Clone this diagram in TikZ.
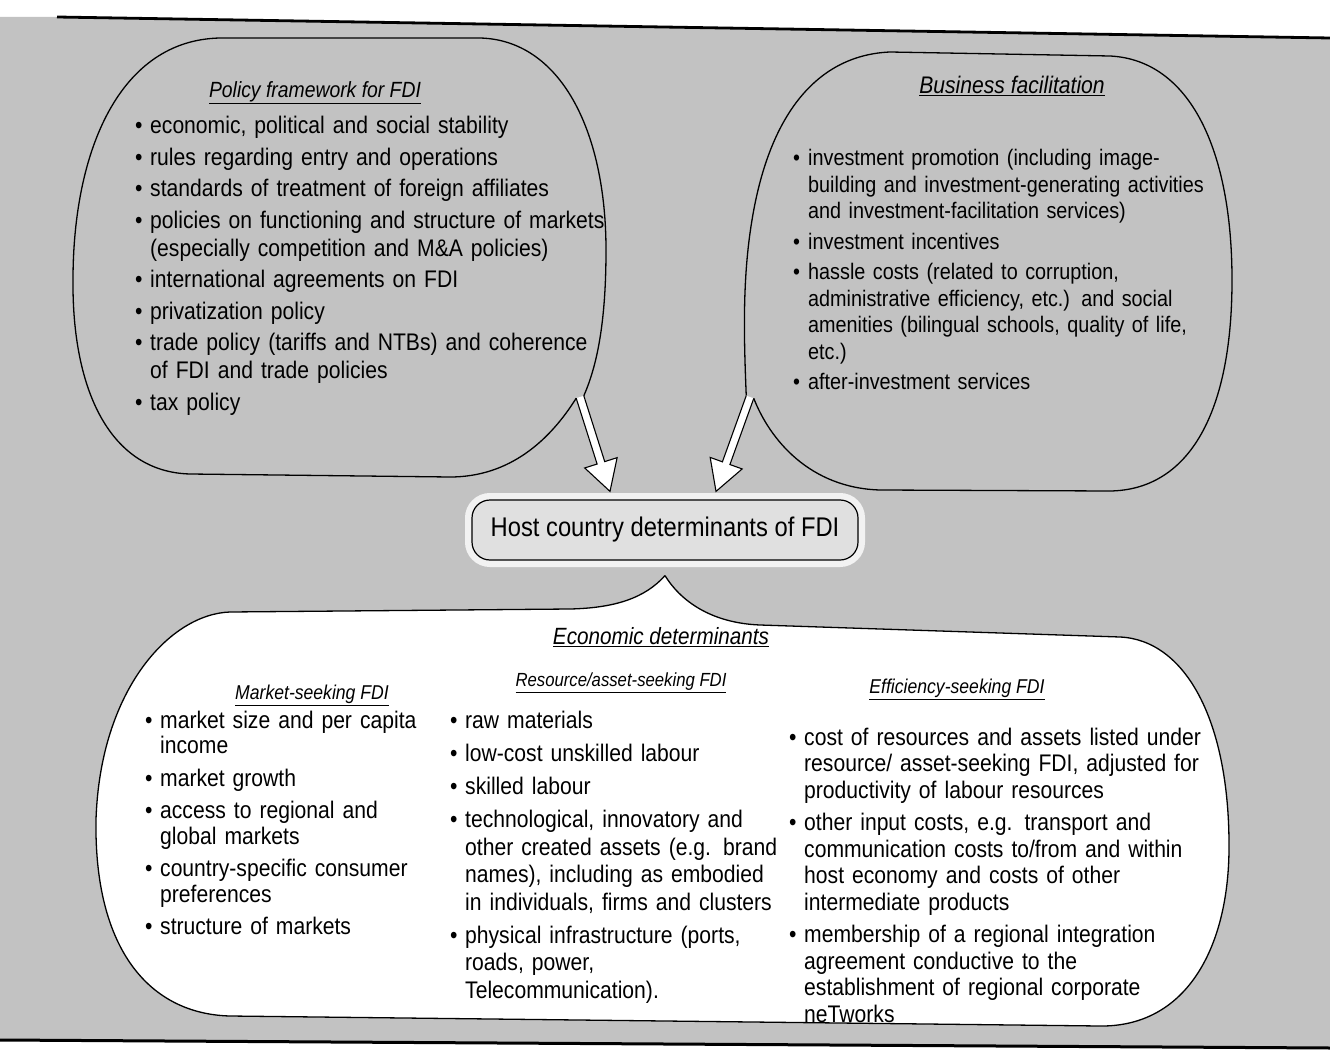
\documentclass[tikz,border=0pt]{standalone}
\usepackage{fontspec}
\setmainfont{Liberation Sans}[FakeStretch=0.88]
\usetikzlibrary{calc}

\newcommand{\itm}{\par\hangindent=15pt\hangafter=1\noindent\makebox[15pt][l]{\textbullet}}
\newcommand{\nl}{\hfil\break}
\newcommand{\hd}[1]{\underline{\textit{#1}}}
\newcommand{\hollowarrow}[1]{%
  \coordinate (#1base) at ($(#1tip)!30pt!(#1tail)$);
  \filldraw[arrowbody] (#1A) -- ($(#1base)!4pt!-90:(#1tip)$) -- ($(#1base)!17pt!-90:(#1tip)$)
    -- (#1tip) -- ($(#1base)!17pt!90:(#1tip)$) -- ($(#1base)!4pt!90:(#1tip)$) -- (#1B);}

\begin{document}
\begin{tikzpicture}[
  x=1pt, y=-1pt,
  bubble/.style={draw=black, line width=1.3pt},
  arrowbody/.style={fill=white, draw=black, line width=1.1pt, line join=miter},
  hostbox/.style={draw=black, line width=1.2pt, fill=black!12, rounded corners=18pt,
    minimum width=386pt, minimum height=60pt, inner sep=0pt,
    font=\fontsize{27}{30}\selectfont,
    preaction={draw=black!5, line width=14pt}},
  head/.style={inner sep=0pt},
  listtext/.style={anchor=north west, inner sep=0pt, align=left}
  ]
  \useasboundingbox (0,0) rectangle (1330,1059);
  \fill[black!24] (0,17) -- (57,17) -- (1330,38) -- (1330,1048) -- (0,1040) -- cycle;
  \draw[line width=2.8pt] (57,17) -- (1330,38);
  \draw[line width=3pt] (0,1040) -- (1330,1048);

  \node[hostbox] (host) at (665,530) {Host country determinants of FDI};

  \coordinate (ltail) at (580,397);
  \coordinate (ltip) at ([xshift=-55pt, yshift=8pt]host.north);
  \coordinate (rtail) at (750,397);
  \coordinate (rtip) at ([xshift=51pt, yshift=8pt]host.north);
  \coordinate (lA) at ($(ltail)!4pt!-90:(ltip)$);
  \coordinate (lB) at ($(ltail)!4pt!90:(ltip)$);
  \coordinate (rA) at ($(rtail)!4pt!-90:(rtip)$);
  \coordinate (rB) at ($(rtail)!4pt!90:(rtip)$);
  \coordinate (apex) at ([yshift=-15pt]host.south);

  % economic determinants
  \filldraw[bubble, fill=white] (apex) .. controls (645,598) and (615,608) .. (570,609)
    -- (230,612) .. controls (170,614) and (100,690) .. (96,820)
    .. controls (94,950) and (150,1014) .. (230,1016) -- (1100,1026)
    .. controls (1185,1027) and (1228,950) .. (1229,850)
    .. controls (1230,720) and (1185,640) .. (1120,637) -- (760,625)
    .. controls (710,623) and (680,600) .. (apex);

  % policy framework
  \draw[bubble] (lB) .. controls (595,370) and (606,330) .. (606,250)
    .. controls (606,130) and (560,40) .. (480,38) -- (220,38)
    .. controls (120,40) and (73,150) .. (73,280)
    .. controls (72,390) and (110,472) .. (190,474) -- (450,477)
    .. controls (510,477) and (550,440) .. (lA);

  % business facilitation
  \draw[bubble] (rA) .. controls (744,340) and (742,280) .. (752,220)
    .. controls (770,110) and (820,55) .. (890,52) -- (1110,56)
    .. controls (1190,60) and (1232,150) .. (1232,280)
    .. controls (1232,420) and (1185,490) .. (1110,491) -- (880,490)
    .. controls (810,488) and (770,440) .. (rB);

  \hollowarrow{l}
  \hollowarrow{r}

  \node[head, font=\fontsize{22}{26}\selectfont] (pohead) at (315,93) {\hd{Policy framework for FDI}};
  \node[head, font=\fontsize{24}{28}\selectfont] (bfhead) at (1012,86) {\hd{Business facilitation}};
  \node[head, font=\fontsize{23.5}{28}\selectfont] (edhead) at (661,637) {\hd{Economic determinants}};
  \node[head, font=\fontsize{20}{24}\selectfont] (mshead) at (312,695) {\hd{Market-seeking FDI}};
  \node[head, font=\fontsize{19}{23}\selectfont] (rshead) at (621,683) {\hd{Resource/asset-seeking FDI}};
  \node[head, font=\fontsize{20}{24}\selectfont] (eshead) at (957,689) {\hd{Efficiency-seeking FDI}};

  \node[listtext, text width=480pt, font=\fontsize{24}{28}\selectfont] (polist) at (135,102) {%
    \setlength{\parskip}{3.5pt}%
    \itm economic, political and social stability
    \itm rules regarding entry and operations
    \itm standards of treatment of foreign affiliates
    \itm policies on functioning and structure of markets\nl(especially competition and M\&A policies)
    \itm international agreements on FDI
    \itm privatization policy
    \itm trade policy (tariffs and NTBs) and coherence\nl of FDI and trade policies
    \itm tax policy\par};

  \node[listtext, text width=440pt, font=\fontsize{22.5}{26.5}\selectfont] (bflist) at (793,135) {%
    \setlength{\parskip}{4pt}%
    \itm investment promotion (including image-\nl building and investment-generating activities\nl and investment-facilitation services)
    \itm investment incentives
    \itm hassle costs (related to corruption,\nl administrative efficiency, etc.) and social\nl amenities (bilingual schools, quality of life,\nl etc.)
    \itm after-investment services\par};

  \node[listtext, text width=295pt, font=\fontsize{24}{25.5}\selectfont] (mslist) at (145,695.5) {%
    \setlength{\parskip}{7pt}%
    \itm market size and per capita\nl income
    \itm market growth
    \itm access to regional and\nl global markets
    \itm country-specific consumer\nl preferences
    \itm structure of markets\par};

  \node[listtext, text width=330pt, font=\fontsize{24}{27.5}\selectfont] (rslist) at (450,695.5) {%
    \setlength{\parskip}{5.5pt}%
    \itm raw materials
    \itm low-cost unskilled labour
    \itm skilled labour
    \itm technological, innovatory and\nl other created assets (e.g. brand\nl names), including as embodied\nl in individuals, firms and clusters
    \itm physical infrastructure (ports,\nl roads, power,\nl Telecommunication).\par};

  \node[listtext, text width=430pt, font=\fontsize{24}{26.5}\selectfont] (eslist) at (789,712.5) {%
    \setlength{\parskip}{6pt}%
    \itm cost of resources and assets listed under\nl resource/ asset-seeking FDI, adjusted for\nl productivity of labour resources
    \itm other input costs, e.g. transport and\nl communication costs to/from and within\nl host economy and costs of other\nl intermediate products
    \itm membership of a regional integration\nl agreement conductive to the\nl establishment of regional corporate\nl neTworks\par};
\end{tikzpicture}
\end{document}
